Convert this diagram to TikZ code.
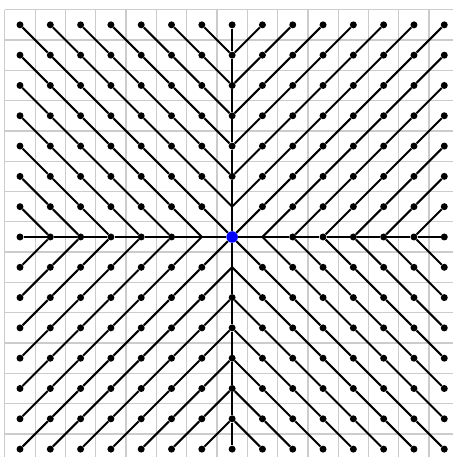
\documentclass[tikz,border=0pt]{standalone}
\usepackage{tikz}

\begin{document}
\begin{tikzpicture}[
        x=1cm,y=1cm,
        dot/.style={circle,fill=black,inner sep=0pt,minimum size=0.23cm},
        root/.style={circle,fill=blue,inner sep=0pt,minimum size=0.38cm},
        link/.style={line width=1.9pt,draw=black},
        cell/.style={draw=black!20,line width=1.2pt}
      ]
      \useasboundingbox (-7.66,-7.26) rectangle (7.26,7.82);
      % background grid, cells centred on the points
      \draw[cell,shift={(0.5,0.5)}] (-8,-8) grid (7,7);

      % points, indices 0..14 (7 is the centre)
      \foreach \i in {0,...,14}
        \foreach \j in {0,...,14} {
          \pgfmathtruncatemacro\dd{abs(\i-7)+abs(\j-7)}
          \ifnum\dd=1
            \coordinate (v\i-\j) at (\i-7,\j-7);
          \else
            \node[dot] (v\i-\j) at (\i-7,\j-7) {};
          \fi
        }
      \node[root] (v7-7) at (0,0) {};

      % each point joins the next one towards the centre
      \foreach \i in {0,...,14}
        \foreach \j in {0,...,14} {
          \pgfmathtruncatemacro\dd{abs(\i-7)+abs(\j-7)}
          \pgfmathtruncatemacro\pa{\i-sign(\i-7)}
          \pgfmathtruncatemacro\pb{\j-sign(\j-7)}
          \ifnum\dd>0
            \draw[link] (v\i-\j) -- (v\pa-\pb);
          \fi
        }
    \end{tikzpicture}
\end{document}
